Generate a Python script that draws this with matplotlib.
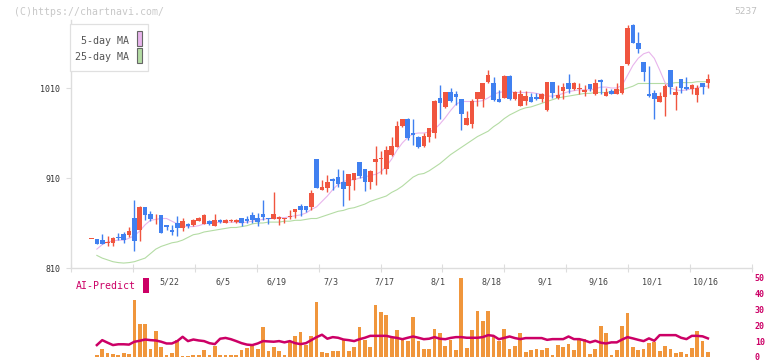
import numpy as np
import matplotlib
matplotlib.use('Agg')
import matplotlib.pyplot as plt
from matplotlib.patches import Rectangle
from matplotlib.transforms import blended_transform_factory

nan = np.nan

# daily prices (oldest first)
opens = [842, 842, 841, 838, 838, 844, 848, 847, 866, 852,
         878, 870, 864, 869, 858, 852, 860, 854, 859, 858,
         862, 859, 862, 857, 863, 860, 862, 861, 866, 864,
         869, 866, 870, 866, 864, 864, 865, 867, 872, 879,
         879, 878, 931, 897, 899, 909, 911, 906, 901, 908,
         928, 920, 906, 928, 931, 920, 936, 944, 968, 976,
         960, 956, 946, 956, 960, 999, 989, 1006, 1003, 998,
         969, 970, 998, 998, 1017, 1016, 998, 999, 1023, 998,
         990, 996, 1000, 1000, 998, 986, 1017, 999, 1007, 1016,
         1009, 1009, 1006, 1014, 1003, 1019, 1001, 1007, 1003, 1004,
         1037, 1080, 1060, 1039, 1003, 1004, 994, 1000, 1030, 1002,
         1020, 1011, 1009, 1002, 1016, 1016]
highs = [842, 842, 848, 846, 844, 849, 850, 856, 886, 879,
         878, 873, 870, 869, 858, 858, 868, 866, 860, 865,
         867, 870, 863, 870, 865, 865, 864, 865, 866, 868,
         872, 871, 886, 866, 894, 868, 866, 874, 876, 881,
         879, 897, 931, 908, 913, 910, 920, 919, 915, 916,
         928, 920, 919, 946, 940, 946, 956, 973, 976, 977,
         976, 957, 960, 966, 997, 1013, 1006, 1010, 1007, 998,
         984, 998, 1006, 1016, 1030, 1022, 1008, 1024, 1024, 1007,
         1008, 1007, 1004, 1004, 1004, 1017, 1017, 1013, 1016, 1026,
         1017, 1016, 1013, 1015, 1020, 1020, 1010, 1009, 1016, 1035,
         1080, 1081, 1072, 1039, 1034, 1008, 1006, 1014, 1030, 1012,
         1020, 1022, 1014, 1013, 1016, 1026]
lows = [842, 837, 837, 834, 835, 841, 838, 844, 829, 840,
        863, 862, 859, 849, 852, 847, 846, 851, 855, 857,
        862, 859, 858, 857, 860, 860, 861, 860, 857, 860,
        860, 857, 863, 859, 864, 858, 860, 864, 866, 868,
        872, 874, 899, 897, 894, 897, 900, 879, 886, 897,
        910, 896, 898, 902, 914, 914, 935, 944, 967, 952,
        947, 943, 945, 950, 954, 976, 988, 995, 991, 963,
        969, 966, 990, 989, 1016, 996, 994, 999, 997, 997,
        990, 991, 994, 997, 994, 985, 999, 998, 998, 1004,
        1008, 1003, 1001, 1007, 1002, 1003, 1001, 1003, 1003, 1003,
        1036, 1060, 1049, 1018, 1000, 976, 994, 979, 1003, 986,
        1004, 1008, 1003, 994, 1003, 1010]
closes = [842.5, 837, 837, 839, 843, 843, 841, 851, 840, 878,
          869, 864, 865, 849, 856, 850, 854, 862, 857, 863,
          866, 869, 859, 863, 861, 863, 863, 863, 860, 862,
          863, 861, 867, 864, 870, 867, 866, 868, 876, 875,
          875, 893, 899, 900, 906, 907, 903, 898, 914, 916,
          912, 906, 918, 931, 932, 941, 946, 968, 976, 954,
          958, 944, 957, 966, 996, 993, 1006, 996, 1000, 981,
          977, 996, 1006, 1016, 1024, 997, 994, 1023, 998, 1006,
          1003, 1001, 994, 998, 1003, 1017, 1004, 1002, 1011, 1009,
          1016, 1010, 1008, 1009, 1016, 1017, 1006, 1003, 1009, 1034,
          1077, 1060, 1053, 1028, 1001, 998, 1001, 1012, 1011, 1006,
          1010, 1009, 1013, 1010, 1011, 1020]

ma5 = [nan, 831, 836, 839, 840, 841, 841, 843, 846, 851,
       858, 863, 864, 865, 865, 862, 859, 857, 856, 856,
       857, 859, 860, 860, 861, 861, 861, 861, 860, 861,
       862, 863, 864, 865, 865, 866, 866, 867, 868, 869,
       871, 875, 878, 884, 890, 897, 903, 906, 908, 908,
       910, 911, 913, 914, 917, 923, 931, 941, 949, 955,
       959, 960, 960, 961, 964, 970, 977, 985, 992, 995,
       995, 995, 995, 996, 999, 1003, 1005, 1006, 1006, 1005,
       1005, 1005, 1005, 1004, 1003, 1001, 1001, 1002, 1004, 1006,
       1007, 1008, 1008, 1008, 1009, 1011, 1011, 1010, 1010, 1013,
       1024, 1035, 1043, 1048, 1050, 1043, 1030, 1016, 1010, 1008,
       1007, 1008, 1009, 1010, 1012, 1012]
ma25 = [nan, 824, 821, 819, 817, 816, 815.5, 816, 817, 819,
        821, 826, 831, 834, 836, 838, 839, 841, 844, 847,
        848, 850, 851, 852, 853, 854, 855, 855, 856, 857,
        859, 860, 860, 861, 861, 861, 862, 862, 863, 863,
        864, 865, 865, 867, 869, 871, 873, 874, 876, 877,
        879, 881, 884, 886, 888, 890, 894, 897, 901, 906,
        911, 914, 915, 918, 922, 926, 931, 936, 940, 944,
        948, 952, 956, 959, 962, 967, 971, 976, 980, 983,
        986, 988, 989, 991, 993, 995, 997, 999, 1000, 1001,
        1002, 1003, 1004, 1004, 1005, 1005, 1005, 1006, 1007, 1008,
        1010, 1012, 1015, 1015, 1015, 1015, 1015, 1015, 1015, 1016,
        1016, 1016, 1016, 1017, 1017, 1017]

volume = [nan, 1, 5, 2.5, 1.7, 1.3, 2.3, 1.7, 35.6, 20.6,
          20.6, 5, 16.5, 6.2, 1.3, 2.5, 11, 0.6, 0.6, 1.2,
          1.5, 4.6, 1.5, 6.9, 1, 1, 1, 1.5, 4.4, 5.6,
          7, 5, 18.7, 3.7, 6.2, 3.7, 1.5, 9.4, 13.1, 15.6,
          7.5, 13.1, 34.4, 3.1, 2.5, 3.7, 3.7, 11.2, 3.7, 6.2,
          18.7, 10.6, 6.2, 32.5, 28.1, 26.2, 12.5, 16.9, 10.6, 10,
          25, 10, 5, 5, 17.5, 15, 6.9, 10.6, 4.4, 49.4,
          5.6, 16.9, 28.7, 22.5, 28.7, 12.5, 10, 17.5, 5, 6.9,
          15, 3.1, 4.4, 5, 4.4, 5.6, 1.5, 7.5, 6.2, 8.1,
          4.4, 11.2, 11.2, 2, 5, 19.4, 15, 1, 4.4, 19.4,
          27.5, 6.2, 4.4, 5, 8.7, 9.4, 3.7, 6.9, 5, 2.5,
          3.1, 2, 5.6, 16.2, 10, 3.1]
ai_predict = [nan, 7.5, 10.6, 9, 7.5, 8, 8, 7.8, 9.6, 10.2,
              11, 10.6, 10.4, 9.6, 8.5, 8.5, 10, 12.7, 10, 11,
              10.4, 10, 8.7, 8.1, 11.5, 12, 11.2, 10, 8.7, 7.8,
              7.5, 8.5, 10, 9.8, 9.6, 10, 9.2, 10, 8.7, 8.1,
              8.7, 10.6, 12.5, 14, 11.5, 12.5, 12.1, 11, 10.6, 10,
              11.2, 12.1, 13.3, 13.3, 13.3, 13.3, 12.5, 12, 11.2, 12.1,
              12.9, 12.1, 11.2, 11.5, 12.5, 11.5, 11.2, 12, 12.5, 12.5,
              12.1, 12.1, 12.1, 12.5, 13.75, 13.3, 11.2, 12, 12.9, 11.9,
              11.25, 11.9, 11.9, 11.9, 11.9, 10.8, 11.25, 11.25, 11.25, 12.9,
              11.25, 11.25, 10.4, 9.2, 10.2, 9, 8.5, 9.2, 9.2, 11,
              12.5, 11.7, 10.8, 10, 11.7, 10.2, 13.75, 13.75, 13.75, 13.75,
              12.1, 11.25, 13.3, 13.3, 13, 11.7]

date_labels = ['5/22', '6/5', '6/19', '7/3', '7/17', '8/1', '8/18', '9/1', '9/16', '10/1', '10/16']
label_idx = [15, 25, 35, 45, 55, 65, 75, 85, 95, 105, 115]
price_ticks = [810, 910, 1010]
vol_ticks = [0, 10, 20, 30, 40, 50]

W, H = 772, 361
RED = '#f0553f'
BLUE = '#4080f0'
PINK = '#e8b4ec'
GREEN = '#b4dca4'
ORANGE = '#f0963c'
CRIMSON = '#cc0066'
AXC = '#dddddd'
MONO = 'DejaVu Sans Mono'


def fbox(x0, y0, x1, y1):
    # pixel box (origin top-left) -> figure fraction rect
    return [x0 / W, 1 - y1 / H, (x1 - x0) / W, (y1 - y0) / H]


fig = plt.figure(figsize=(W / 100, H / 100), dpi=100)
ax = fig.add_axes(fbox(71, 20, 752, 268))
axv = fig.add_axes(fbox(71, 277.5, 752, 357))
axv.patch.set_visible(False)

x = np.arange(len(opens))
o = np.array(opens, dtype=float)
c = np.array(closes, dtype=float)
cols = np.where(c >= o, RED, BLUE)

ax.plot(x, ma25, color=GREEN, lw=0.8, zorder=1)
ax.plot(x, ma5, color=PINK, lw=0.8, zorder=1)
ax.vlines(x, lows, highs, colors=cols, lw=1.0, zorder=2)
ax.bar(x, np.maximum(np.abs(c - o), 0.9), bottom=np.minimum(o, c),
       width=0.86, color=cols, lw=0, zorder=3)

xlim = ((71 - 91.5) / 5.36, (752 - 91.5) / 5.36)
ax.set_xlim(xlim)
ax.set_ylim(810, 810 + 248 / 0.9)
for s in ['top', 'right']:
    ax.spines[s].set_visible(False)
for s in ['left', 'bottom']:
    ax.spines[s].set_color(AXC)
    ax.spines[s].set_linewidth(1.0)
ax.set_yticks(price_ticks)
ax.set_yticklabels([str(v) for v in price_ticks], family=MONO)
ax.tick_params(axis='y', length=3.6, width=0.8, color=AXC, labelsize=6,
               labelcolor='#333333', pad=4)
ax.set_xticks(np.linspace(xlim[0], xlim[1], 12))
ax.set_xticklabels([])
ax.tick_params(axis='x', direction='inout', length=5.8, width=0.8, color=AXC)

tr = blended_transform_factory(ax.transData, ax.transAxes)
for lab, i in zip(date_labels, label_idx):
    ax.text(i - 0.4, -14 / 248, lab, transform=tr, ha='center', va='center',
            fontsize=6, color='#444444', family=MONO)

# volume + AI predict
axv.bar(x, volume, width=0.7, color=ORANGE, lw=0)
axv.plot(x, ai_predict, color=CRIMSON, lw=1.8)
axv.set_xlim(xlim)
axv.set_ylim(0, 50)
for s in axv.spines.values():
    s.set_visible(False)
axv.yaxis.tick_right()
axv.set_yticks(vol_ticks)
axv.set_yticklabels([str(v) for v in vol_ticks], family=MONO, fontweight='bold')
axv.tick_params(axis='y', length=0, pad=2, labelsize=6, labelcolor=CRIMSON)
axv.set_xticks([])

# header texts
fig.text(14 / W, 1 - 12 / H, '(C)https://chartnavi.com/', fontsize=7.1,
         color='#c8c8c8', family=MONO, ha='left', va='center')
fig.text(757 / W, 1 - 12 / H, '5237', fontsize=6.8, color='#c0c0c0',
         family=MONO, ha='right', va='center')

# legend box
fig.add_artist(Rectangle((70 / W, 1 - 71 / H), 78 / W, 47 / H, transform=fig.transFigure,
                         facecolor='white', edgecolor='#e0e0e0', lw=0.9, zorder=5))
fig.text(129 / W, 1 - 40.5 / H, '5-day MA', fontsize=7.2, color='#555555',
         family=MONO, ha='right', va='center', zorder=6)
fig.text(129 / W, 1 - 56.5 / H, '25-day MA', fontsize=7.2, color='#555555',
         family=MONO, ha='right', va='center', zorder=6)
fig.add_artist(Rectangle((137 / W, 1 - 46 / H), 5 / W, 15 / H, transform=fig.transFigure,
                         facecolor=PINK, edgecolor='#666666', lw=0.8, zorder=6))
fig.add_artist(Rectangle((137 / W, 1 - 63 / H), 5 / W, 15 / H, transform=fig.transFigure,
                         facecolor=GREEN, edgecolor='#666666', lw=0.8, zorder=6))

# AI-Predict label
fig.text(76 / W, 1 - 286 / H, 'AI-Predict', fontsize=7.1, color=CRIMSON,
         family=MONO, ha='left', va='center')
fig.add_artist(Rectangle((142.5 / W, 1 - 292.5 / H), 6 / W, 15 / H,
                         transform=fig.transFigure, facecolor=CRIMSON, lw=0))

fig.savefig('out.png', dpi=100)
